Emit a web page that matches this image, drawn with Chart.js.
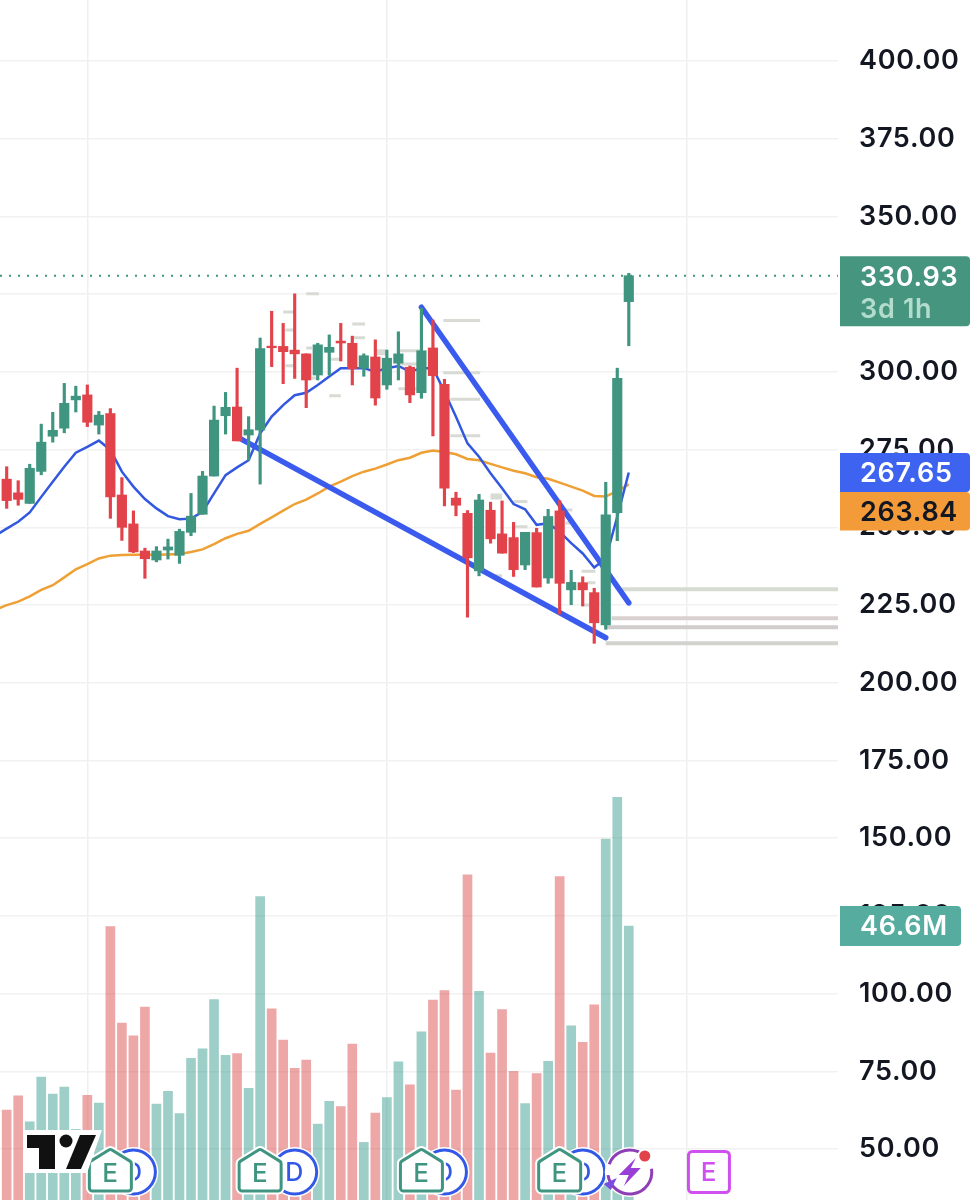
<!DOCTYPE html>
<html>
<head>
<meta charset="utf-8">
<style>html,body{margin:0;padding:0;background:#fff}canvas{display:block}</style>
<script src="https://cdn.jsdelivr.net/npm/chart.js@4/dist/chart.umd.min.js"></script>
</head>
<body>
<canvas id="c" width="979" height="1200"></canvas>
<script>
// Candles, one entry per session (index 0..54)
const opens  = [265.5,261.1,257.7,268,279.3,281.9,291,292.6,282.9,286.6,260.4,251.1,242.4,239.5,242.7,241,248.4,254.2,266.5,285.9,288.7,279.7,281.3,308.2,308.2,307,305.8,299,306.3,309.9,309.2,301.2,304.8,295.8,302.8,301.5,293.3,307.7,296,259.4,254.5,236,255.5,247.9,246.7,237.9,248.3,233.7,255.3,229.9,232.2,229,218.6,254.7,322.6];
const highs  = [269.5,265,270.3,283.2,287,296.3,295.4,295.8,287.3,288.2,266,255.3,243.3,243.8,246.2,249.4,260.9,268,289,293.4,301.2,285.6,310.9,319.5,315.6,325.1,305.8,309.2,311.9,315.6,311.5,305.8,310.3,307,312.9,301.9,320.5,316.7,297.6,261.3,255.4,260.6,258.1,258.5,251.6,248.4,249.7,255.8,258.6,236.2,234.1,230.4,264.5,301.2,331.7];
const lows   = [256.1,257.1,257.7,266.9,277.4,280.4,287.1,282.4,280,252.9,245.8,241.9,233.6,238.9,239.8,238.4,247.3,254.2,266.5,280,277.8,271.6,263.9,301.7,296.2,297.9,288.5,297.4,299,303.5,295.8,298.6,289.3,294.4,297.4,290.1,291.5,279.4,256.9,253.7,221.1,234.4,244.9,241.7,234.2,236.4,230.8,232,222.1,225.1,224.7,212.7,217.2,245.7,308.4];
const closes = [258.6,259,269,277.4,281.2,289.9,292.2,283.8,286.1,259.8,250,242.1,239.9,242.4,243.7,248.7,253.6,266.5,284.5,288.6,277.8,281.4,307.5,307.8,306.5,305.8,297.4,308.7,307.9,309.3,301,305.2,291.6,304.4,305.8,292.6,306.8,298.8,262.6,257.1,240.2,258.8,246.3,241.7,236.4,248.4,230.8,253.5,232,232.3,229.9,219.3,254,297.9,330.93];
// Volume in millions
const volumes = [15.3,17.7,13.3,20.9,18,19.2,12,17.8,16.5,46.5,30.1,27.9,32.8,16.3,18.5,14.7,24.1,25.7,34.1,24.6,24.9,19,51.6,32.5,27.2,22.4,23.8,12.9,16.8,15.9,26.5,9.8,14.8,17.4,23.5,19.6,28.6,34,35.6,18.7,55.3,35.5,25,32.4,21.9,16.4,21.5,23.6,55,29.6,26.8,33.2,61.4,68.5,46.6];
// Moving averages: first entry is the session before index 0
const maBlue = [247.3,249.6,251.8,254.8,259.8,264.7,269.5,274,275.9,277.9,274.9,267.9,263.1,259.1,256.1,253.6,252.6,252.8,255,260.9,266.8,269.3,271.6,280.2,285.6,289.3,292.5,293.3,295.8,298.5,301.2,301.2,301.2,300.1,301.2,301.9,300.1,301.2,301.2,293.6,285.6,277,272.7,267.4,262.6,257.5,255.8,250.8,251.3,248.6,244.9,241.6,237.1,240,253.4,267.65];
const maOrange = [223.4,225,226.1,227.8,229.9,231.4,233.9,236.5,238.2,240,240.9,241.1,241.2,241.2,241.2,241.3,241.4,242.1,242.9,244.6,246.5,247.9,248.9,251.1,253.2,255.4,257.5,258.9,260.9,263.1,264.7,266.5,267.9,268.9,270.2,271.6,272.4,274,274.7,274.2,273.5,272,271.6,270.4,269.3,268.2,267.4,266.1,265.6,264.4,263.1,261.8,260.1,259.9,261.7,263.84];
// Drawn trend lines: [session, price]
const trendLower = [[20.2,278.7],[52,214.5]];
const trendUpper = [[36,320.8],[54,225.7]];
// Horizontal zones on the right: [from session, price, colour]
const zoneStarts = [53.4,52.5,52.1,52];
const zonePrices = [230.1,220.8,217.9,212.7];
const zoneColours = ['#d6dcd2','#d9d0d0','#d2cdcd','#d2d2ce'];
// Small marker tags: [from session, to session, price]
const tagStarts = [37.9,37.9,38.5,38.5,26,24,24.2,24.2,26,26.5,30,30,28.1,28,32.1,32.1,34.1,34.1,34,42,42,44,44.1,42.2,48.2,48.5,49.9,50.4,49.9];
const tagEnds   = [41.1,41.1,41.1,41.1,27.1,25,25,24.9,26.5,27.1,31.1,31.1,29,29,33.1,33.1,35.9,35.6,35.6,43,43,45.2,45.2,43,49.1,49.1,51.1,51.1,50.6];
const tagPrices = [316.5,299.7,291.2,279.5,325.1,319.3,313.5,302,307.7,298,315.4,311,304.1,292.3,306.8,305.8,306.8,302.5,294.6,260.4,259.4,258.3,250.2,234.4,255.6,251.4,235.9,232.2,225];
const priceTicks = [400,375,350,325,300,275,250,225,200,175,150,125,100,75,50];
const timeTicks = [7,33,59];
const lastPrice = 330.93, lastBlue = 267.65, lastOrange = 263.84, lastVolume = '46.6M', countdown = '3d 1h';
const earningsSessions = [9,22,36,48], dividendSessions = [11,25,38,50], flashSession = 54, futureEarnings = 61;

const GREEN='#3f9580', RED='#e2434b', INK='#131722', FONT='Inter, sans-serif';
const isUp = i => closes[i] >= opens[i];
const candleColour = i => isUp(i) ? GREEN : RED;

const xMin=-0.58, xMax=72.16;
const drawings = {
  id:'drawings',
  beforeDraw(chart){ try{chart.ctx.letterSpacing='0.7px'}catch(e){} },
  afterDraw(chart){
    const {ctx, scales:{x,y}} = chart;
    ctx.save();
    const px = v => x.getPixelForValue(v);
    ctx.textAlign='center'; ctx.textBaseline='middle';
    function roundPoly(pts,r){
      ctx.beginPath();
      const n=pts.length;
      ctx.moveTo((pts[n-1][0]+pts[0][0])/2,(pts[n-1][1]+pts[0][1])/2);
      for(let i=0;i<n;i++){const a=pts[i],b=pts[(i+1)%n];ctx.arcTo(a[0],a[1],(a[0]+b[0])/2,(a[1]+b[1])/2,r);}
      ctx.closePath();
    }
    function dividend(cx){
      ctx.beginPath();ctx.arc(cx,1172,25,0,7);ctx.fillStyle='#fff';ctx.fill();
      ctx.beginPath();ctx.arc(cx,1172,22,0,7);ctx.lineWidth=3;ctx.strokeStyle='#3358e8';ctx.stroke();
      ctx.fillStyle='#3358e8';ctx.font='500 25px '+FONT;ctx.fillText('D',cx,1173);
    }
    function earnings(cx){
      const pts=[[cx,1149],[cx+21,1162],[cx+21,1191],[cx-21,1191],[cx-21,1162]];
      roundPoly(pts,3);ctx.fillStyle='#fff';ctx.fill();ctx.lineWidth=7;ctx.strokeStyle='#fff';ctx.stroke();
      roundPoly(pts,3);ctx.lineWidth=3;ctx.strokeStyle=GREEN;ctx.stroke();
      ctx.fillStyle=GREEN;ctx.font='500 26px '+FONT;ctx.fillText('E',cx,1174);
    }
    dividendSessions.forEach(s=>dividend(px(s)));
    earningsSessions.forEach(s=>earnings(px(s)));
    const fx=px(flashSession)+1, fy=1172;
    ctx.beginPath();ctx.arc(fx,fy,25,0,7);ctx.fillStyle='#fff';ctx.fill();
    ctx.beginPath();ctx.arc(fx,fy,22,-0.15,3.0);ctx.lineWidth=3;ctx.strokeStyle='#8e3fb5';ctx.stroke();
    ctx.beginPath();ctx.arc(fx,fy,22,3.5,5.3);ctx.stroke();
    ctx.beginPath();ctx.moveTo(fx-26,fy+12);ctx.lineTo(fx-13,fy+6);ctx.lineTo(fx-19,fy+18);ctx.closePath();ctx.fillStyle='#7a4de0';ctx.fill();
    ctx.beginPath();
    [[6,-14],[-11,3],[-1,3],[-6,14],[11,-4],[1,-4]].forEach((p,i)=>i?ctx.lineTo(fx+p[0],fy+p[1]):ctx.moveTo(fx+p[0],fy+p[1]));
    ctx.closePath();ctx.fillStyle='#9a3fd6';ctx.fill();
    ctx.beginPath();ctx.arc(fx+15,fy-16,7.5,0,7);ctx.fillStyle='#fff';ctx.fill();
    ctx.beginPath();ctx.arc(fx+15,fy-16,5.5,0,7);ctx.fillStyle='#e2434b';ctx.fill();
    const ex=px(futureEarnings)-0.5;
    ctx.beginPath();ctx.roundRect(ex-20.5,1151.5,41,41,4);ctx.fillStyle='#fff';ctx.fill();ctx.lineWidth=3;ctx.strokeStyle='#cf4fef';ctx.stroke();
    ctx.fillStyle='#cf4fef';ctx.font='500 26px '+FONT;ctx.fillText('E',ex,1173);
    ctx.beginPath();ctx.moveTo(24,1130);ctx.lineTo(102,1130);ctx.lineTo(87,1173);ctx.lineTo(24,1173);ctx.closePath();ctx.fillStyle='#fff';ctx.fill();
    ctx.fillStyle='#111';
    ctx.beginPath();ctx.moveTo(27,1135);ctx.lineTo(55,1135);ctx.lineTo(55,1169);ctx.lineTo(39,1169);ctx.lineTo(39,1148);ctx.lineTo(27,1148);ctx.closePath();ctx.fill();
    ctx.beginPath();ctx.arc(66,1141,6.5,0,7);ctx.fill();
    ctx.beginPath();ctx.moveTo(80,1135);ctx.lineTo(96,1135);ctx.lineTo(81,1169);ctx.lineTo(66,1169);ctx.closePath();ctx.fill();
    ctx.textAlign='left';ctx.textBaseline='middle';
    const badge=(top,h,x1,col,lines)=>{
      ctx.beginPath();ctx.roundRect(840,top,x1-840,h,[0,4,4,0]);ctx.fillStyle=col;ctx.fill();
      lines.forEach(l=>{ctx.fillStyle=l.c;ctx.font='600 27px '+FONT;ctx.fillText(l.t,860,l.y);});
    };
    const yLast=y.getPixelForValue(lastPrice), yB=y.getPixelForValue(lastBlue);
    badge(yLast-19.5,70,970,'#45957f',[{t:lastPrice.toFixed(2),c:'#fff',y:yLast+2},{t:countdown,c:'#b4dccd',y:yLast+34}]);
    badge(yB-19.5,39,970,'#3e63f0',[{t:lastBlue.toFixed(2),c:'#fff',y:yB+1}]);
    badge(yB+19.5,38.5,970,'#f29b38',[{t:lastOrange.toFixed(2),c:'#131722',y:yB+40}]);
    badge(906,40,961,'#55ac9f',[{t:lastVolume,c:'#fff',y:927}]);
    ctx.restore();
  }
};

const tagData=[];
tagPrices.forEach((p,i)=>{tagData.push({x:tagStarts[i],y:p},{x:tagEnds[i],y:p},{x:null,y:null});});
const seg = (pts,colour,width,order) => ({type:'line',data:pts.map(p=>({x:p[0],y:p[1]})),borderColor:colour,borderWidth:width,pointRadius:0,tension:0,borderCapStyle:'round',yAxisID:'y',order});
const sessions = opens.map((_,i)=>i);

new Chart(document.getElementById('c'),{
  type:'bar',
  plugins:[drawings],
  data:{datasets:[
    {type:'bar',label:'Volume',data:volumes.map((v,i)=>({x:i,y:v})),backgroundColor:sessions.map(i=>isUp(i)?'rgba(60,158,146,.5)':'rgba(219,80,78,.5)'),barThickness:9,grouped:false,yAxisID:'yVol',order:10},
    ...zonePrices.map((p,i)=>({...seg([[zoneStarts[i],p],[xMax,p]],zoneColours[i],4,9),borderCapStyle:'butt'})),
    {type:'line',label:'Tags',data:tagData,borderColor:'#d8dad4',borderWidth:3,pointRadius:0,spanGaps:false,yAxisID:'y',order:8},
    {...seg([[xMin,lastPrice],[xMax,lastPrice]],GREEN,2,7),borderDash:[2,7],borderCapStyle:'butt'},
    {type:'line',label:'MA slow',data:maOrange.map((v,i)=>({x:i-1,y:v})),borderColor:'#efa034',borderWidth:2.5,pointRadius:0,yAxisID:'y',order:6},
    {type:'line',label:'MA fast',data:maBlue.map((v,i)=>({x:i-1,y:v})),borderColor:'#3358e0',borderWidth:2.5,pointRadius:0,yAxisID:'y',order:5},
    seg(trendLower,'#3a5bee',5.5,4),
    seg(trendUpper,'#3a5bee',5.5,4),
    {type:'bar',label:'Wick',data:sessions.map(i=>({x:i,y:[lows[i],highs[i]]})),backgroundColor:sessions.map(candleColour),barThickness:2.5,grouped:false,yAxisID:'y',order:2},
    {type:'bar',label:'Body',data:sessions.map(i=>({x:i,y:[opens[i],closes[i]]})),backgroundColor:sessions.map(candleColour),barThickness:9.5,minBarLength:1.5,grouped:false,yAxisID:'y',order:1}
  ]},
  options:{
    responsive:false,animation:false,
    layout:{padding:0},
    plugins:{legend:{display:false},tooltip:{enabled:false}},
    scales:{
      x:{type:'linear',min:xMin,max:xMax,offset:false,
        afterBuildTicks:a=>{a.ticks=timeTicks.map(v=>({value:v}))},
        afterFit:a=>{a.height=0;a.paddingLeft=0;a.paddingRight=0},
        ticks:{display:false},border:{display:false},
        grid:{color:'#efeff0',lineWidth:1.5,drawTicks:false,offset:false}},
      y:{type:'linear',position:'right',min:33.64,max:419.62,
        afterBuildTicks:a=>{a.ticks=priceTicks.map(v=>({value:v}))},
        afterFit:a=>{a.width=141;a.paddingTop=0;a.paddingBottom=0},
        border:{display:false},
        grid:{color:'#f1f1f2',lineWidth:1.5,drawTicks:false},
        ticks:{padding:21,color:INK,font:{family:'Inter',size:27,weight:'600'},callback:v=>Number(v).toFixed(2)}},
      yVol:{type:'linear',display:false,min:0,max:204.08}
    }
  }
});
</script>
</body>
</html>
